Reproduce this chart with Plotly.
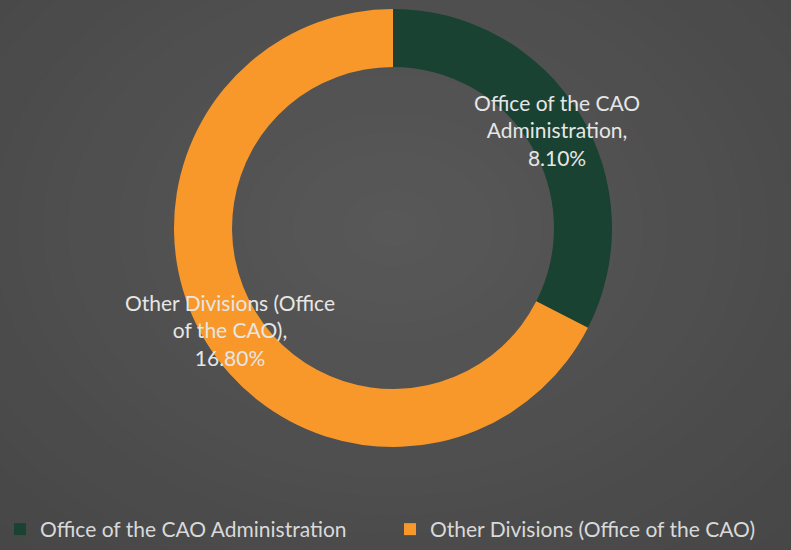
import plotly.graph_objects as go

labels = ["Office of the CAO Administration", "Other Divisions (Office of the CAO)"]
values = [8.10, 16.80]
label_lines = [["Office of the CAO", "Administration,"], ["Other Divisions (Office", "of the CAO),"]]
colors = ["#1a4232", "#f8982a"]

W, H = 791, 550
cx, cy, r = 393, 228, 219

fig = go.Figure()
fig.add_trace(go.Pie(
    labels=labels, values=values, hole=0.735, sort=False, direction="clockwise",
    rotation=0, textinfo="none", hoverinfo="label+percent",
    marker=dict(colors=colors, line=dict(width=0)),
    domain=dict(x=[(cx - r) / W, (cx + r) / W], y=[(H - cy - r) / H, (H - cy + r) / H]),
))

# label annotations (text from data)
label_pos = [(557, 130), (230, 330)]
for lines, v, (x, y) in zip(label_lines, values, label_pos):
    fig.add_annotation(
        x=x / W, y=1 - y / H, xref="paper", yref="paper", showarrow=False,
        xanchor="center", yanchor="middle",
        text="<br>".join(lines + [f"{v:.2f}%"]), align="center",
        font=dict(family="Lato, Open Sans, sans-serif", size=21, color="#e6e6e6"),
    )

# radial-ish background
shapes = []
steps = 24
for i in range(steps):
    f = 1 - i / steps
    c = int(round(0x46 + (0x58 - 0x46) * (i / (steps - 1))))
    rx = 600 * f
    ry = 460 * f
    shapes.append(dict(type="circle", xref="paper", yref="paper", layer="below",
                       x0=(cx - rx) / W, x1=(cx + rx) / W, y0=1 - (cy + ry) / H, y1=1 - (cy - ry) / H,
                       fillcolor=f"rgb({c},{c},{c})", line=dict(width=0)))

fig.update_layout(
    width=W, height=H, margin=dict(l=0, r=0, t=0, b=0),
    paper_bgcolor="#464646", plot_bgcolor="rgba(0,0,0,0)",
    shapes=shapes,
    showlegend=True,
    legend=dict(orientation="h", x=0.0, xanchor="left", y=0.0, yanchor="bottom",
                bgcolor="rgba(0,0,0,0)",
                font=dict(family="Lato, Open Sans, sans-serif", size=21, color="#d9d9d9"),
                itemwidth=30, entrywidth=345),
)

fig.write_html("out.html", config={"displayModeBar": False},
               post_script="document.body.style.margin='0';document.body.style.overflow='hidden';")
